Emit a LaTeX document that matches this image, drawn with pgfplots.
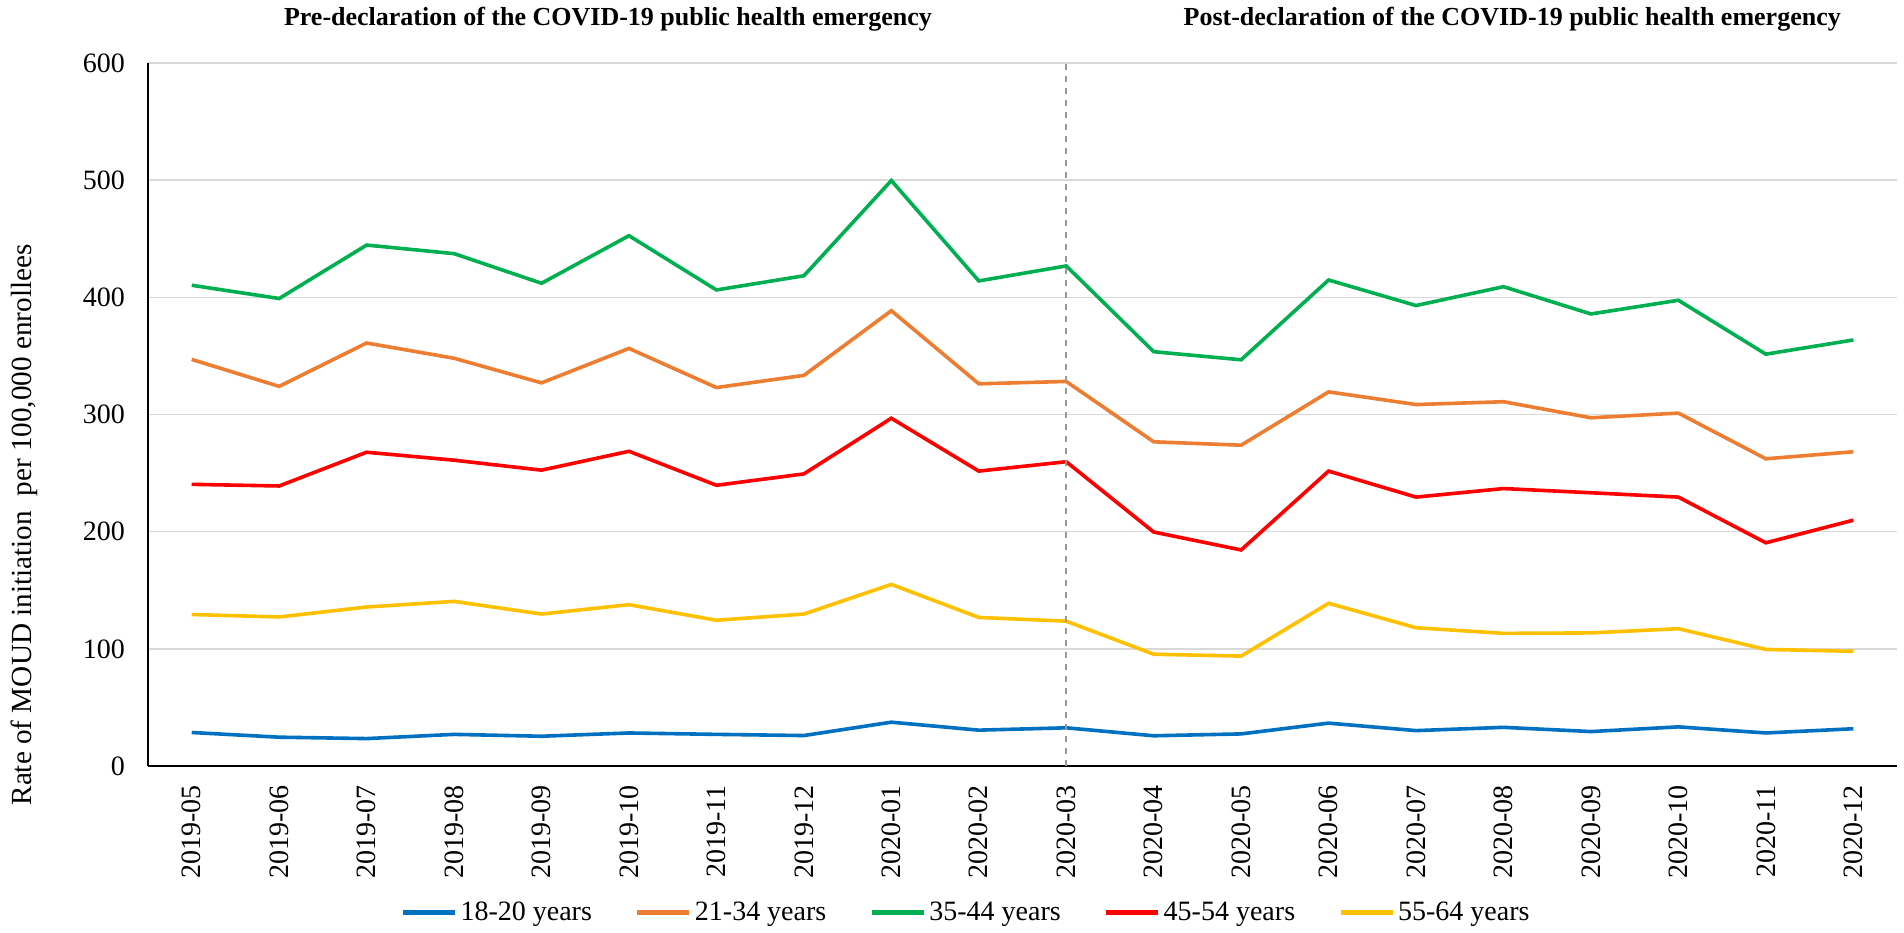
\documentclass[border=0pt]{standalone}
\usepackage{pgfplots}
\pgfplotsset{compat=1.18}
\usepackage{fontspec}
\setmainfont{Liberation Serif}
\usetikzlibrary{calc}
\definecolor{cBlue}{HTML}{0070C0}
\definecolor{cOrange}{HTML}{ED7D31}
\definecolor{cGreen}{HTML}{00B050}
\definecolor{cRed}{HTML}{FF0000}
\definecolor{cYellow}{HTML}{FFC000}
\definecolor{cGrid}{HTML}{D9D9D9}
\begin{document}
\begin{tikzpicture}
\begin{axis}[
  scale only axis,
  width=874.5pt, height=351.5pt,
  xmin=-0.5, xmax=19.5, ymin=0, ymax=600,
  xtick={0,...,19},
  xticklabels={2019-05,2019-06,2019-07,2019-08,2019-09,2019-10,2019-11,2019-12,2020-01,2020-02,2020-03,2020-04,2020-05,2020-06,2020-07,2020-08,2020-09,2020-10,2020-11,2020-12},
  ytick={0,100,...,600},
  major tick length=0pt,
  axis x line*=bottom, axis y line*=left,
  axis line style={black, line width=0.8pt},
  ymajorgrids, grid style={cGrid, line width=0.8pt},
  /pgf/number format/assume math mode=true,
  tick label style={font=\fontsize{14}{16}\selectfont},
  xticklabel style={rotate=90, anchor=east},
  xticklabel shift=6pt,
  yticklabel shift=8pt,
  ylabel={Rate of MOUD initiation\ \ per 100,000 enrollees},
  ylabel style={font=\fontsize{14.6}{16}\selectfont, at={(axis description cs:-0.0709,0.343)}, anchor=center},
  clip=false,
  legend columns=5,
  legend style={draw=none, fill=none, at={(0.468,-0.209)}, anchor=center,
    font=\fontsize{14}{16}\selectfont,
    /tikz/every even column/.style={column sep=20pt},
    nodes={inner sep=1.5pt}},
  legend image code/.code={\draw[#1, line width=2.5pt] (0pt,0pt) -- (26pt,0pt);},
  every axis plot/.append style={line width=1.8pt},
]
\addplot[cBlue] coordinates {(0,28.6)(1,24.6)(2,23.4)(3,27.0)(4,25.4)(5,28.2)(6,27.0)(7,26.0)(8,37.4)(9,30.6)(10,32.6)(11,25.8)(12,27.4)(13,36.6)(14,30.2)(15,33.0)(16,29.4)(17,33.4)(18,28.2)(19,31.8)};
\addlegendentry{18-20 years}
\addplot[cOrange] coordinates {(0,347)(1,324)(2,361)(3,348)(4,327)(5,356.4)(6,323)(7,333.4)(8,388.6)(9,326.2)(10,328.2)(11,276.7)(12,273.8)(13,319.3)(14,308.5)(15,310.9)(16,297.2)(17,301.2)(18,262.2)(19,268.2)};
\addlegendentry{21-34 years}
\addplot[cGreen] coordinates {(0,410.3)(1,399)(2,444.6)(3,437.3)(4,412)(5,452.6)(6,406.3)(7,418.4)(8,499.7)(9,414)(10,426.8)(11,353.6)(12,346.7)(13,414.8)(14,393)(15,409.1)(16,385.8)(17,397.5)(18,351.5)(19,363.6)};
\addlegendentry{35-44 years}
\addplot[cRed] coordinates {(0,240.4)(1,239)(2,267.8)(3,261)(4,252.5)(5,268.6)(6,239.6)(7,249.3)(8,296.8)(9,251.7)(10,259.7)(11,199.7)(12,184.4)(13,251.7)(14,229.5)(15,236.8)(16,233.2)(17,229.5)(18,190.5)(19,209.8)};
\addlegendentry{45-54 years}
\addplot[cYellow] coordinates {(0,129.3)(1,127.2)(2,135.7)(3,140.5)(4,129.7)(5,137.7)(6,124.4)(7,129.7)(8,155)(9,126.8)(10,123.6)(11,95.4)(12,93.8)(13,138.9)(14,118)(15,113.2)(16,113.6)(17,117.2)(18,99.5)(19,97.9)};
\addlegendentry{55-64 years}
\addplot[gray!80, dashed, line width=0.8pt, forget plot] coordinates {(10,0)(10,600)};
\node[font=\bfseries\fontsize{13}{15}\selectfont] at (axis cs:4.76,637.5) {Pre-declaration of the COVID-19 public health emergency};
\node[font=\bfseries\fontsize{13}{15}\selectfont] at (axis cs:15.1,637.5) {Post-declaration of the COVID-19 public health emergency};
\end{axis}
\path ($(current axis.south west)+(-74pt,-83pt)$) rectangle ($(current axis.north east)+(3.5pt,31.5pt)$);
\end{tikzpicture}
\end{document}
